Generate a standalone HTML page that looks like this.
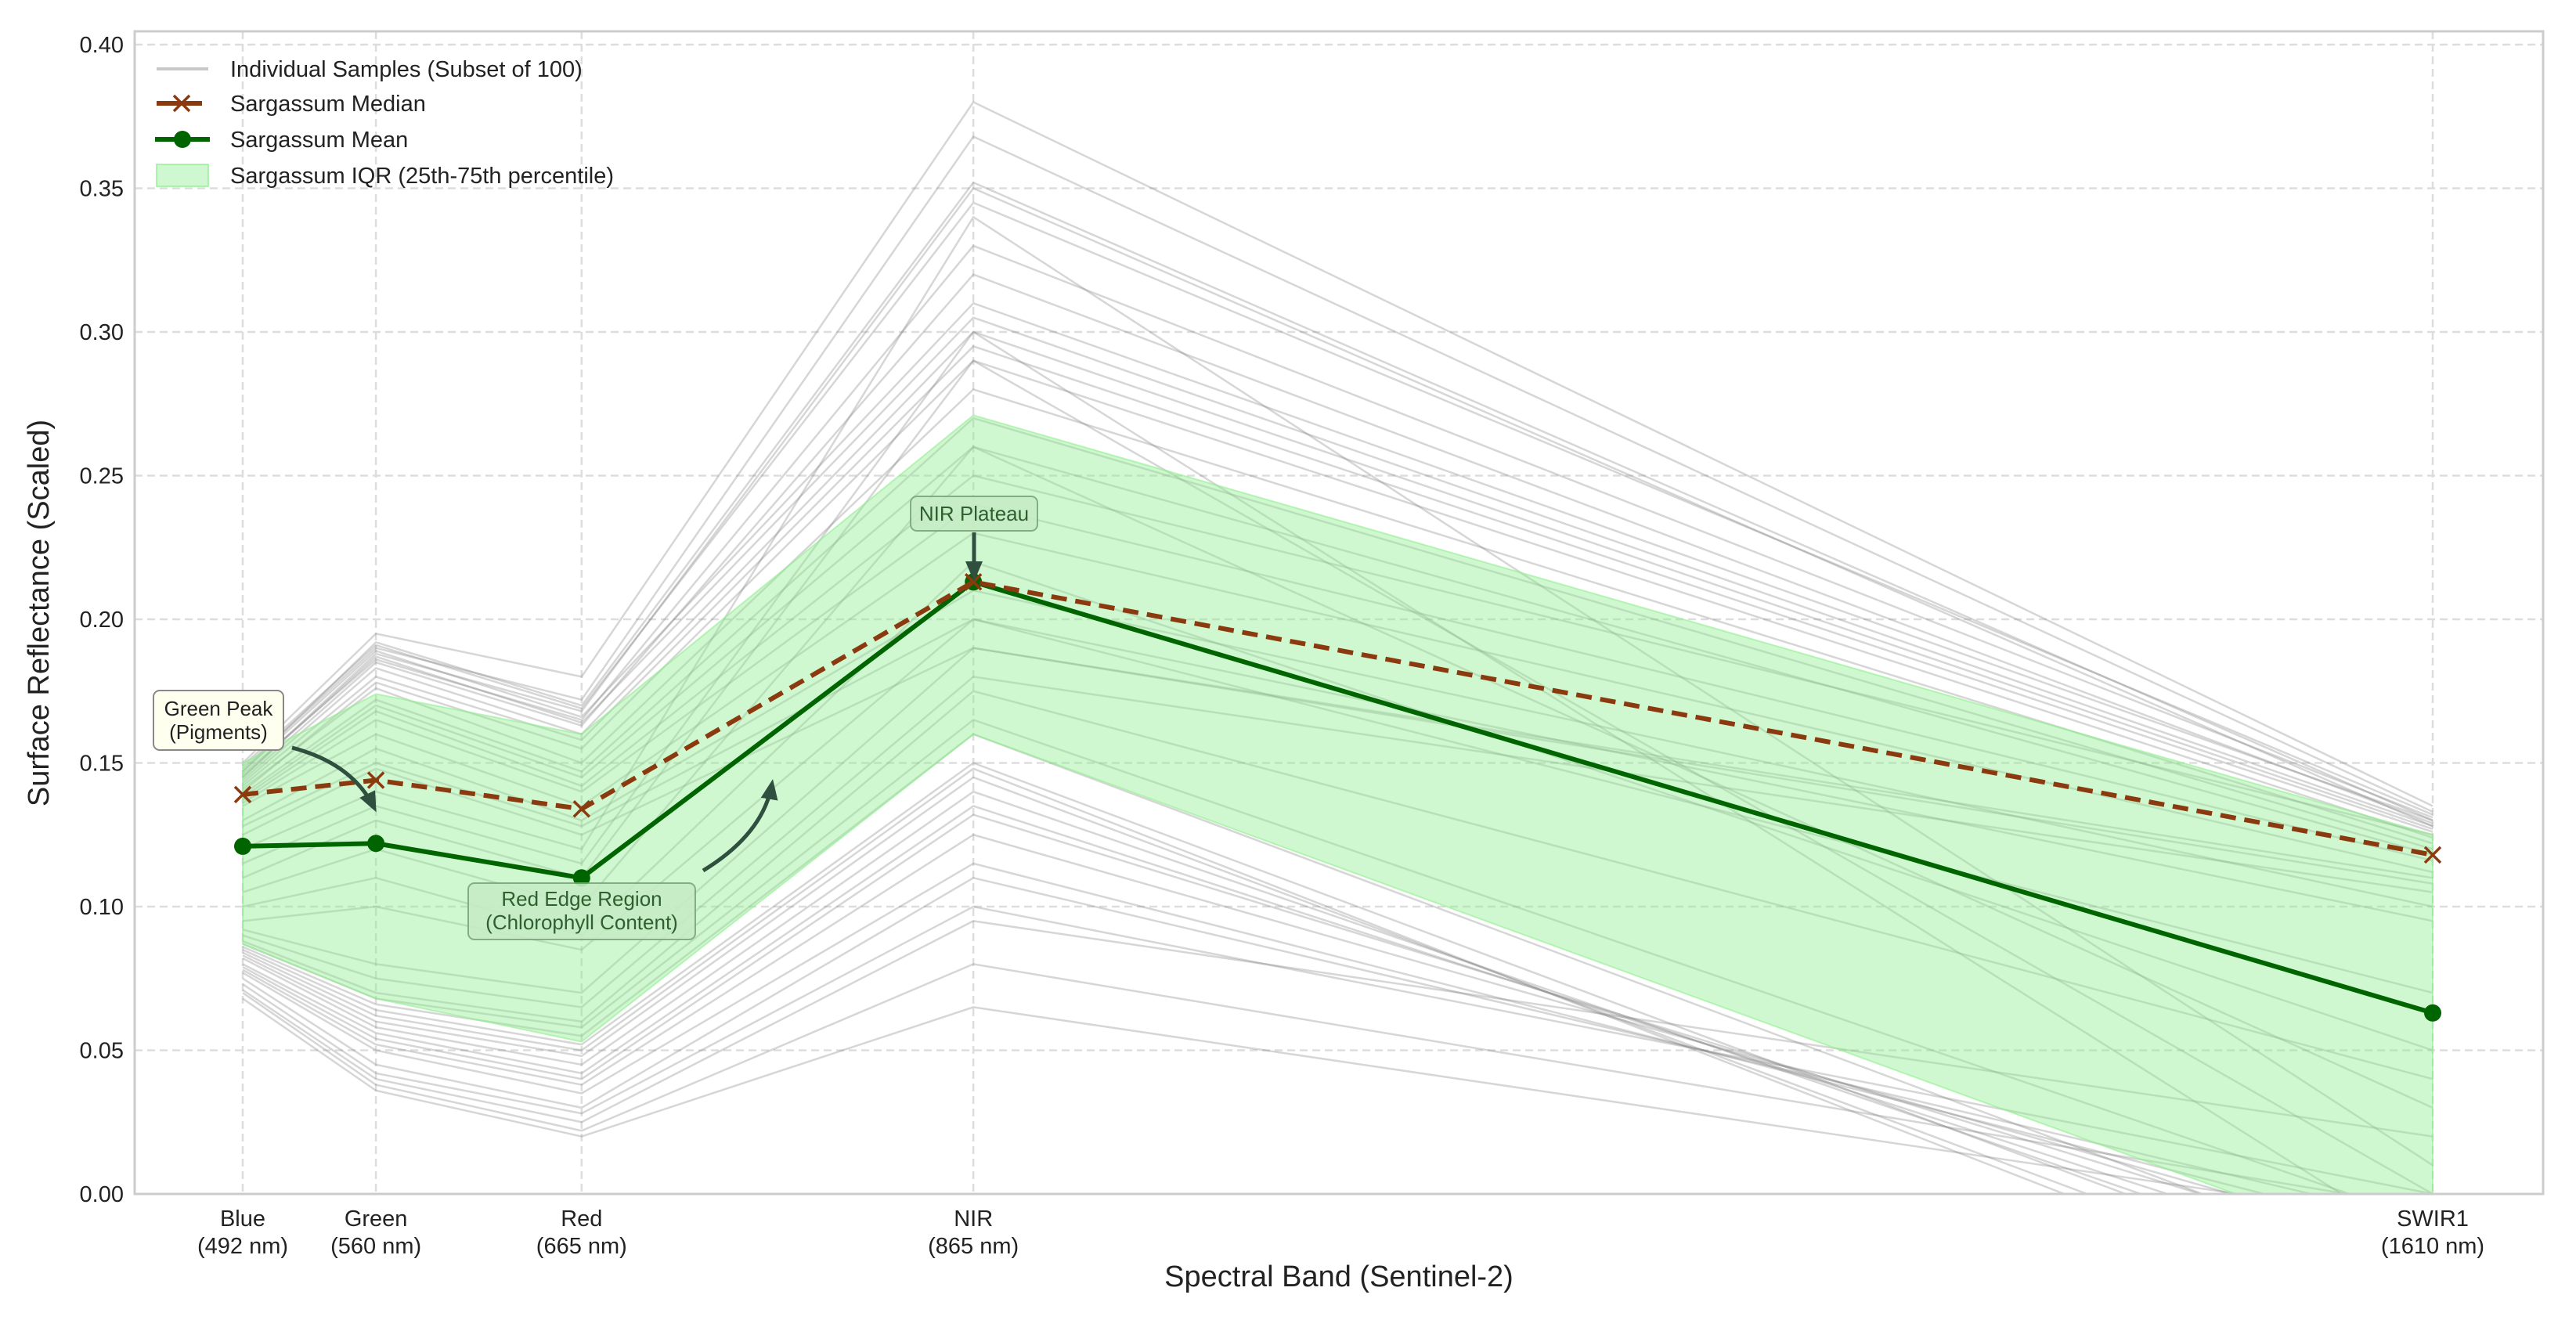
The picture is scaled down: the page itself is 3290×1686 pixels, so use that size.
<!DOCTYPE html>
<html><head><meta charset="utf-8"><style>
body{margin:0;background:#fff}
svg{display:block;font-family:"Liberation Sans",Arial,sans-serif}
</style></head><body>
<svg id="chart" width="3290" height="1686" viewBox="0 0 3290 1686" xmlns="http://www.w3.org/2000/svg">
<defs>
<clipPath id="plotclip"><rect x="172" y="40" width="3076" height="1485"/></clipPath>
<marker id="ah" markerWidth="26" markerHeight="26" refX="20" refY="13" orient="auto" markerUnits="userSpaceOnUse" viewBox="0 0 26 26"><path d="M0,2 L26,13 L0,24 z" fill="#2f4f3f"/></marker>
</defs>
<g id="grid"></g>
<g id="samples" clip-path="url(#plotclip)"></g>
<g id="series" clip-path="url(#plotclip)"></g>
<rect x="172" y="40" width="3076" height="1485" fill="none" stroke="#cccccc" stroke-width="3"/>
<g id="ticks"></g>
<text x="1710" y="1643" font-size="38" text-anchor="middle" fill="#222">Spectral Band (Sentinel-2)</text>
<text transform="translate(62,783) rotate(-90)" font-size="38" text-anchor="middle" fill="#222">Surface Reflectance (Scaled)</text>
<g id="annotations"></g>
<g id="legend"></g>
</svg>
<script>
const bands = ["Blue","Green","Red","NIR","SWIR1"];
const bandLabels = ["(492 nm)","(560 nm)","(665 nm)","(865 nm)","(1610 nm)"];
const wavelengths = [492,560,665,865,1610];
const yTicks = [0,0.05,0.10,0.15,0.20,0.25,0.30,0.35,0.40];
const medianVals = [0.139,0.144,0.134,0.213,0.118];
const meanVals = [0.121,0.122,0.110,0.213,0.063];
const iqrUpper = [0.150,0.174,0.160,0.271,0.125];
const iqrLower = [0.087,0.068,0.053,0.160,-0.025];
const samples = [
[0.150,0.195,0.180,0.380,0.135],[0.148,0.190,0.172,0.368,0.133],[0.147,0.192,0.170,0.352,0.130],
[0.145,0.188,0.168,0.350,0.128],[0.146,0.186,0.165,0.330,0.131],[0.144,0.185,0.163,0.320,0.129],
[0.143,0.183,0.160,0.300,0.127],[0.142,0.180,0.158,0.295,0.126],[0.140,0.178,0.155,0.290,0.124],
[0.141,0.176,0.150,0.280,0.122],[0.139,0.172,0.147,0.270,0.120],[0.138,0.170,0.145,0.260,0.118],
[0.137,0.168,0.142,0.250,0.125],[0.136,0.165,0.140,0.240,0.116],[0.135,0.160,0.135,0.230,0.112],
[0.149,0.191,0.169,0.345,0.132],[0.147,0.189,0.166,0.310,0.130],[0.145,0.187,0.164,0.305,0.128],
[0.120,0.140,0.120,0.340,0.010],[0.115,0.135,0.115,0.300,-0.020],[0.110,0.130,0.110,0.290,0.000],
[0.105,0.120,0.100,0.260,0.030],[0.100,0.110,0.090,0.220,0.050],[0.095,0.100,0.085,0.200,0.070],
[0.092,0.080,0.070,0.190,0.110],[0.090,0.075,0.065,0.180,0.105],[0.088,0.070,0.060,0.175,0.040],
[0.087,0.068,0.058,0.165,-0.010],[0.086,0.066,0.055,0.160,-0.030],[0.085,0.064,0.052,0.150,-0.040],
[0.084,0.062,0.050,0.148,-0.050],[0.083,0.060,0.048,0.145,-0.045],[0.082,0.058,0.045,0.140,-0.035],
[0.080,0.056,0.042,0.135,-0.030],[0.079,0.054,0.040,0.132,-0.025],[0.078,0.052,0.038,0.125,-0.020],
[0.077,0.050,0.035,0.115,-0.015],[0.075,0.045,0.030,0.110,-0.010],[0.073,0.042,0.028,0.100,0.000],
[0.071,0.040,0.025,0.095,0.020],[0.070,0.038,0.022,0.080,-0.005],[0.068,0.036,0.020,0.065,-0.010],
[0.130,0.155,0.130,0.210,0.100],[0.128,0.150,0.128,0.200,0.095],[0.125,0.148,0.125,0.190,0.108]
];
const X0=172,X1=3248,Y0=1525,Y1=57;
function xs(w){return 310+(w-492)*(3107-310)/(1610-492);}
function ys(v){return Y0-(v/0.40)*(Y0-Y1);}
const NS="http://www.w3.org/2000/svg";
function mk(tag,attrs,parent){const e=document.createElementNS(NS,tag);for(const k in attrs)e.setAttribute(k,attrs[k]);parent.appendChild(e);return e;}
const grid=document.getElementById('grid'),ticks=document.getElementById('ticks');
yTicks.forEach(t=>{
 const l=mk('line',{x1:X0,x2:X1,y1:ys(t),y2:ys(t),stroke:'#dddddd','stroke-width':2.5,'stroke-dasharray':'10,6'},grid);
 
 
 const tx=mk('text',{x:X0-14,y:ys(t)+10,'font-size':29,'text-anchor':'end',fill:'#222'},ticks);
 tx.textContent=t.toFixed(2);
 
 
});
wavelengths.forEach((w,i)=>{
 const l=mk('line',{x1:xs(w),x2:xs(w),y1:40,y2:Y0,stroke:'#dddddd','stroke-width':2.5,'stroke-dasharray':'10,6'},grid);
 
 
 const t1=mk('text',{x:xs(w),y:1566,'font-size':29,'text-anchor':'middle',fill:'#222'},ticks);
 t1.textContent=bands[i];
 
 
 const t2=mk('text',{x:xs(w),y:1601,'font-size':29,'text-anchor':'middle',fill:'#222'},ticks);
 t2.textContent=bandLabels[i];
 
 
});
function pts(vals){return vals.map((v,i)=>xs(wavelengths[i])+','+ys(v)).join(' ');}
const sg=document.getElementById('samples');
samples.forEach(s=>{
 const p=mk('polyline',{points:pts(s),fill:'none',stroke:'rgba(130,130,130,0.33)','stroke-width':2.5},sg);
 
 
});
const se=document.getElementById('series');
const poly=pts(iqrUpper)+' '+iqrLower.map((v,i)=>xs(wavelengths[i])+','+ys(v)).reverse().join(' ');
const f=mk('polygon',{points:poly,fill:'rgba(144,238,144,0.42)',stroke:'rgba(144,238,144,0.6)','stroke-width':2},se);


const ml=mk('polyline',{points:pts(meanVals),fill:'none',stroke:'#006400','stroke-width':6},se);


meanVals.forEach((v,i)=>{const c=mk('circle',{cx:xs(wavelengths[i]),cy:ys(v),r:11,fill:'#006400'},se);
 
 });
const md=mk('polyline',{points:pts(medianVals),fill:'none',stroke:'#8b3a0f','stroke-width':6,'stroke-dasharray':'20,11'},se);


medianVals.forEach((v,i)=>{const x=xs(wavelengths[i]),y=ys(v);
 const g=mk('path',{d:`M${x-10},${y-10}L${x+10},${y+10}M${x-10},${y+10}L${x+10},${y-10}`,stroke:'#8b3a0f','stroke-width':3.5},se);
 
 });
</script>
<script>
(function(){
const NS="http://www.w3.org/2000/svg";
const an=document.getElementById('annotations');
function mk(tag,attrs,parent){const e=document.createElementNS(NS,tag);for(const k in attrs)e.setAttribute(k,attrs[k]);parent.appendChild(e);return e;}
let r=mk('rect',{x:196,y:882,width:166,height:76,rx:8,fill:'#fffff0',stroke:'#888','stroke-width':2},an);


let t=mk('text',{x:279,y:914,'font-size':26,'text-anchor':'middle',fill:'#222'},an);t.textContent='Green Peak';


t=mk('text',{x:279,y:944,'font-size':26,'text-anchor':'middle',fill:'#222'},an);t.textContent='(Pigments)';


let a=mk('path',{d:'M373,955 Q450,975 478,1032',fill:'none',stroke:'#2f4f3f','stroke-width':5,'marker-end':'url(#ah)'},an);


r=mk('rect',{x:598,y:1128,width:290,height:72,rx:8,fill:'#c6ecc6',stroke:'#7aa87a','stroke-width':2,opacity:0.9},an);


t=mk('text',{x:743,y:1157,'font-size':26,'text-anchor':'middle',fill:'#2f5f2f'},an);t.textContent='Red Edge Region';


t=mk('text',{x:743,y:1187,'font-size':26,'text-anchor':'middle',fill:'#2f5f2f'},an);t.textContent='(Chlorophyll Content)';


a=mk('path',{d:'M898,1112 Q975,1065 986,1001',fill:'none',stroke:'#2f4f3f','stroke-width':5,'marker-end':'url(#ah)'},an);


r=mk('rect',{x:1163,y:634,width:162,height:44,rx:8,fill:'#c6ecc6',stroke:'#7aa87a','stroke-width':2,opacity:0.9},an);


t=mk('text',{x:1244,y:665,'font-size':26,'text-anchor':'middle',fill:'#2f5f2f'},an);t.textContent='NIR Plateau';


a=mk('path',{d:'M1244,680 L1244,737',fill:'none',stroke:'#2f4f3f','stroke-width':5,'marker-end':'url(#ah)'},an);


const lg=document.getElementById('legend');
let e=mk('line',{x1:200,x2:266,y1:88,y2:88,stroke:'#c8c8c8','stroke-width':4},lg);

e=mk('line',{x1:200,x2:258,y1:132,y2:132,stroke:'#8b3a0f','stroke-width':6},lg);

e=mk('path',{d:'M222,122L242,142M222,142L242,122',stroke:'#8b3a0f','stroke-width':3.5},lg);

e=mk('line',{x1:198,x2:268,y1:178,y2:178,stroke:'#006400','stroke-width':6},lg);

e=mk('circle',{cx:233,cy:178,r:11,fill:'#006400'},lg);

e=mk('rect',{x:200,y:210,width:66,height:28,fill:'rgba(144,238,144,0.42)',stroke:'rgba(144,238,144,0.7)','stroke-width':2},lg);

const labels=['Individual Samples (Subset of 100)','Sargassum Median','Sargassum Mean','Sargassum IQR (25th-75th percentile)'];
const ly=[88,132,178,224];
labels.forEach((s,i)=>{const tx=mk('text',{x:294,y:ly[i]+10,'font-size':29,fill:'#222'},lg);tx.textContent=s;
 
 });
})();
</script>
</body></html>
